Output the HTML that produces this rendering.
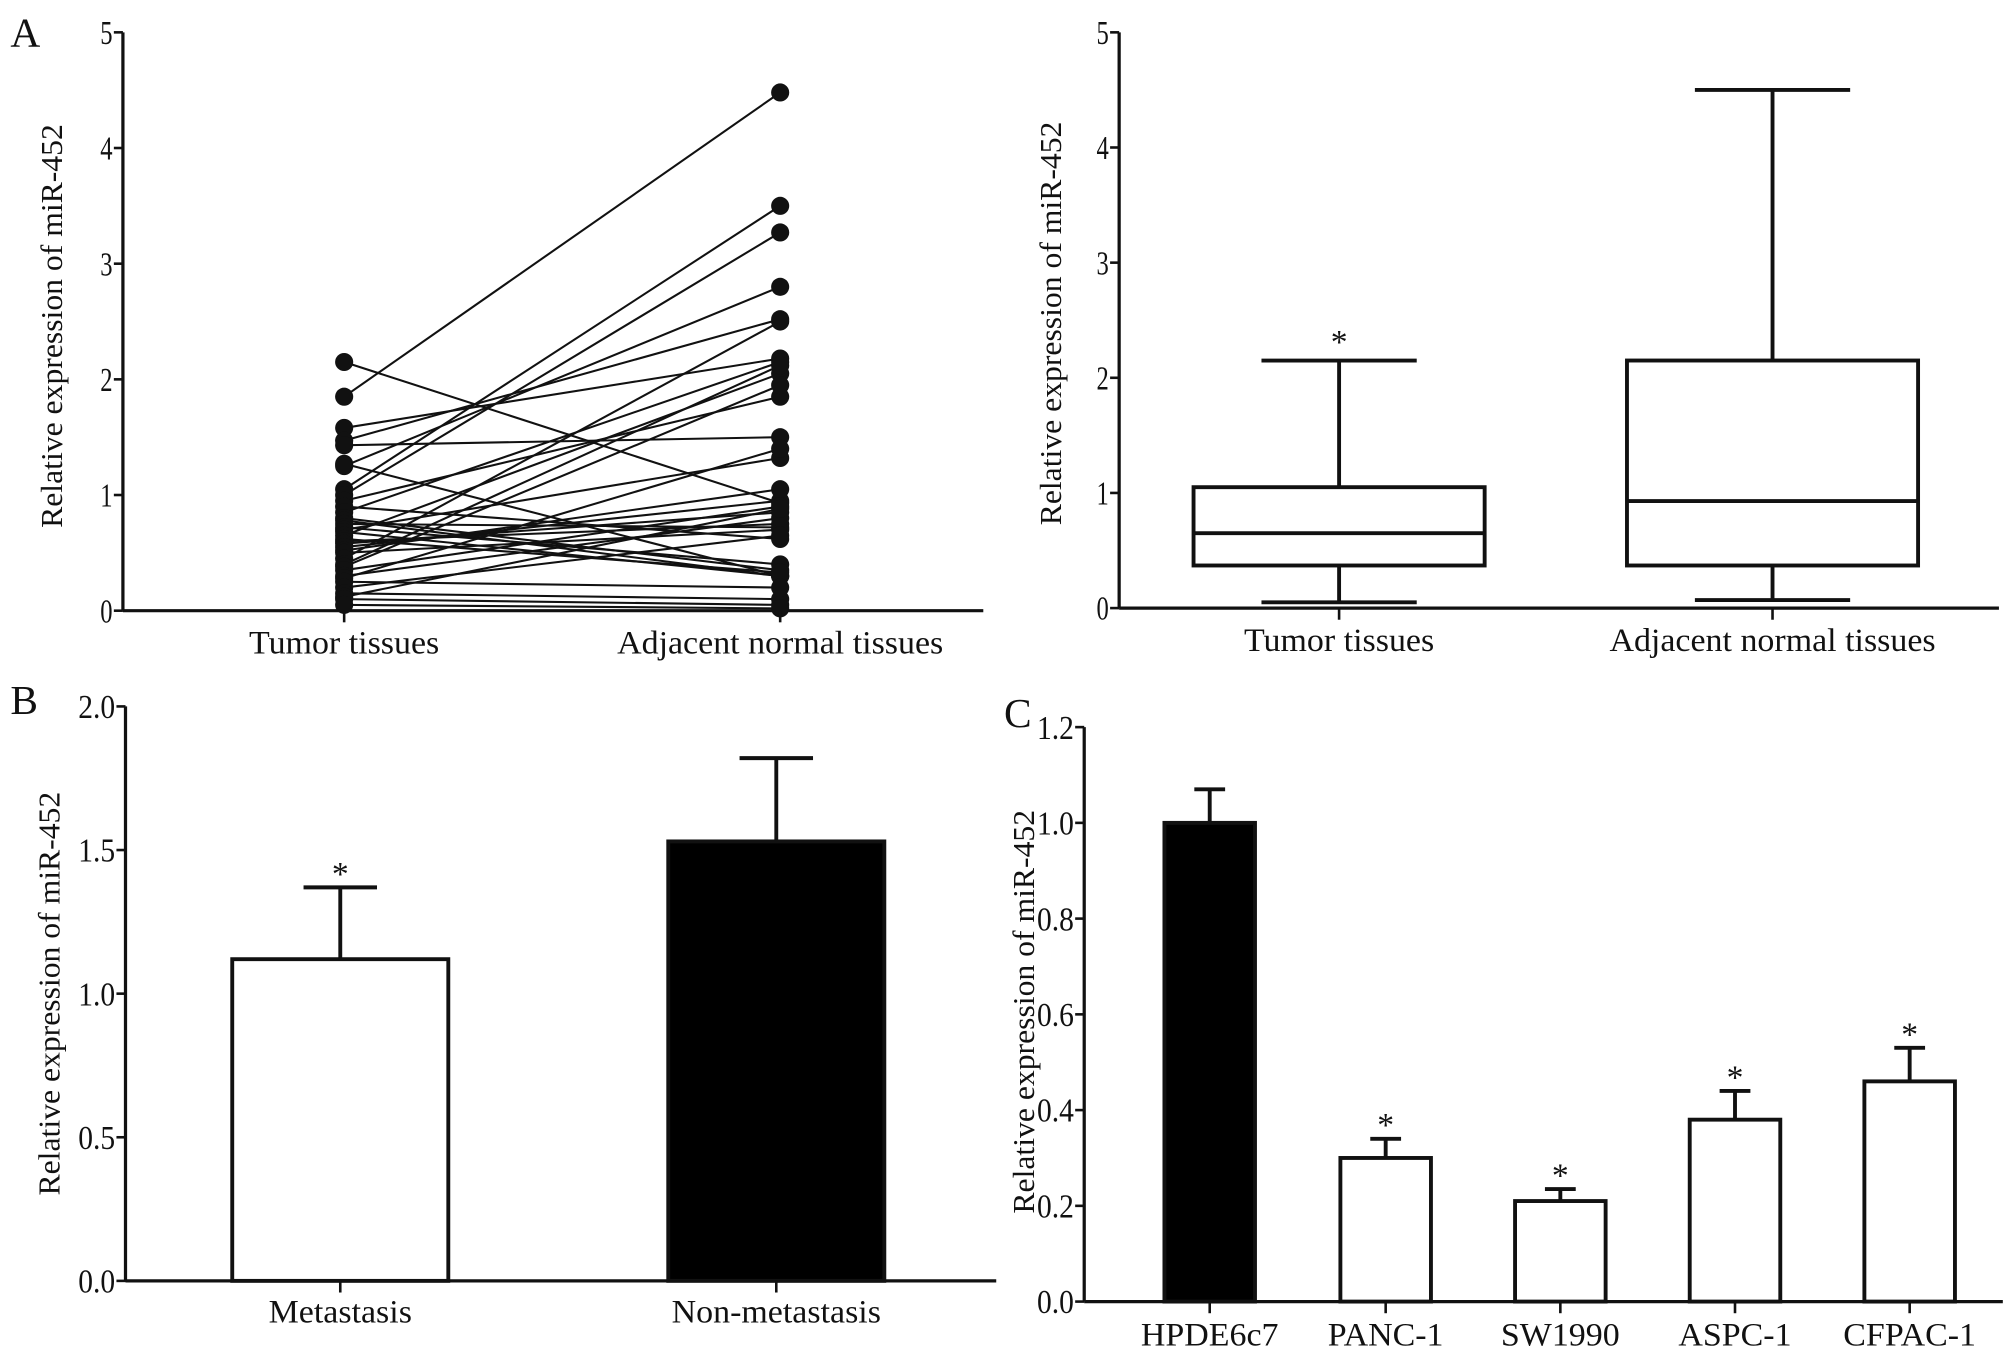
<!DOCTYPE html>
<html><head><meta charset="utf-8"><style>
html,body{margin:0;padding:0;background:#fff}
svg{display:block}
text{font-family:"Liberation Serif",serif;fill:#111}
</style></head><body>
<svg id="fig" width="2008" height="1362" viewBox="0 0 1552 1052.7" xmlns="http://www.w3.org/2000/svg">
<g id="pA1"></g>
<g id="pA2"></g>
<g id="pB"></g>
<g id="pC"></g>
</svg>
<script>
// Panel A paired data
const pairTumor = [1.85,2.15,1.58,1.47,1.43,1.27,1.25,1.05,1.0,0.95,0.9,0.85,0.8,0.78,0.75,0.72,0.7,0.68,0.65,0.62,0.6,0.58,0.55,0.52,0.5,0.45,0.4,0.38,0.35,0.3,0.28,0.25,0.2,0.15,0.12,0.1,0.05];
const pairAdjacent = [4.48,0.93,2.18,2.52,1.5,0.3,2.8,3.5,3.27,1.85,0.62,2.15,0.35,0.3,0.72,0.4,1.32,0.3,2.05,0.33,0.75,0.85,0.95,1.05,0.7,2.5,2.12,1.95,0.9,0.8,1.4,0.2,0.65,0.1,0.88,0.05,0.02];
const pairCategories = ["Tumor tissues","Adjacent normal tissues"];
const ticksA = [0,1,2,3,4,5];
// Panel A box stats: [min,q1,median,q3,max]
const boxCategories = ["Tumor tissues","Adjacent normal tissues"];
const boxStats = [[0.05,0.37,0.65,1.05,2.15],[0.07,0.37,0.93,2.15,4.5]];
// Panel B
const catB = ["Metastasis","Non-metastasis"];
const valB = [1.12,1.53];
const errB = [0.25,0.29];
const ticksB = ["0.0","0.5","1.0","1.5","2.0"];
// Panel C
const catC = ["HPDE6c7","PANC-1","SW1990","ASPC-1","CFPAC-1"];
const valC = [1.0,0.30,0.21,0.38,0.46];
const errC = [0.07,0.04,0.025,0.06,0.07];
const ticksC = ["0.0","0.2","0.4","0.6","0.8","1.0","1.2"];

const NS="http://www.w3.org/2000/svg";
function mk(parent,tag,attrs,txt){const e=document.createElementNS(NS,tag);for(const k in attrs)e.setAttribute(k,attrs[k]);if(txt!==undefined)e.textContent=txt;parent.appendChild(e);return e;}
function lin(d0,d1,r0,r1){return v=>r0+(v-d0)/(d1-d0)*(r1-r0);}
function stretch(t,f){const w=t.getComputedTextLength();t.setAttribute('textLength',w*f);t.setAttribute('lengthAdjust','spacingAndGlyphs');}

function axes(g,x0,x1,y0,ticks,yScale,ylabel,ylx,yly){
  let e=mk(g,'line',{x1:x0,y1:yScale(+ticks[ticks.length-1]),x2:x0,y2:y0,stroke:'#111','stroke-width':2.5});
  
  
  e=mk(g,'line',{x1:x0,y1:y0,x2:x1,y2:y0,stroke:'#111','stroke-width':2.5});
  
  
  ticks.forEach(t=>{const y=yScale(+t);
    let l=mk(g,'line',{x1:x0-7,y1:y,x2:x0,y2:y,stroke:'#111','stroke-width':2});
    
    
    let tx=mk(g,'text',{x:x0-8,y:y+9,'text-anchor':'end','font-size':26,textLength:String(t).length*9.5,lengthAdjust:'spacingAndGlyphs'},t);
    
    
  });
  let yl=mk(g,'text',{x:0,y:0,'text-anchor':'middle','font-size':24,transform:`translate(${ylx},${yly}) rotate(-90)`},ylabel);
  
  
  stretch(yl,1.02);
}
function xlabel(g,x,y0,txt,ly){
  let l=mk(g,'line',{x1:x,y1:y0,x2:x,y2:y0+9,stroke:'#111','stroke-width':2});
  
  
  let t=mk(g,'text',{x:x,y:ly,'text-anchor':'middle','font-size':25},txt);
  
  
  stretch(t,1.05);
}
function panelLetter(g,x,y,s){let t=mk(g,'text',{x:x,y:y,'font-size':32},s);
  
  }

// Panel A left
(function(){
  const g=document.getElementById('pA1');
  const y=lin(0,5,472,25), xs=[266,603];
  panelLetter(g,8,36,'A');
  axes(g,95,760,472,ticksA.map(String),y,'Relative expression of miR-452',48,252);
  pairTumor.forEach((t,i)=>{const a=pairAdjacent[i];
    let l=mk(g,'line',{x1:xs[0],y1:y(t),x2:xs[1],y2:y(a),stroke:'#111','stroke-width':1.6});
    
    
    let c1=mk(g,'circle',{cx:xs[0],cy:y(t),r:7,fill:'#111'});
    
    
    let c2=mk(g,'circle',{cx:xs[1],cy:y(a),r:7,fill:'#111'});
    
    
  });
  pairCategories.forEach((c,i)=>xlabel(g,xs[i],472,c,505));
})();

// Panel A right box plot
(function(){
  const g=document.getElementById('pA2');
  const y=lin(0,5,470,25), xs=[1035,1370], bw=225, cw=60;
  axes(g,865,1545,470,ticksA.map(String),y,'Relative expression of miR-452',820,250);
  boxStats.forEach((s,i)=>{const x=xs[i];
    const w=mk(g,'path',{d:`M${x},${y(s[0])}V${y(s[1])}M${x},${y(s[3])}V${y(s[4])}M${x-cw},${y(s[0])}H${x+cw}M${x-cw},${y(s[4])}H${x+cw}`,stroke:'#111','stroke-width':3,fill:'none'});
    
    
    const b=mk(g,'rect',{x:x-bw/2,y:y(s[3]),width:bw,height:y(s[1])-y(s[3]),fill:'#fff',stroke:'#111','stroke-width':3});
    
    
    const m=mk(g,'line',{x1:x-bw/2,y1:y(s[2]),x2:x+bw/2,y2:y(s[2]),stroke:'#111','stroke-width':3});
    
    
    xlabel(g,x,470,boxCategories[i],503);
  });
  const st=mk(g,'text',{x:xs[0],y:y(boxStats[0][4])-6,'text-anchor':'middle','font-size':26},'*');
  
  
})();

function bars(g,cats,vals,errs,xs,bw,y,y0,fills,star,labY){
  cats.forEach((c,i)=>{const x=xs[i],v=vals[i],e=v+errs[i];
    const eb=mk(g,'path',{d:`M${x},${y(v)}V${y(e)}M${x-bw*0.17},${y(e)}H${x+bw*0.17}`,stroke:'#111','stroke-width':3,fill:'none'});
    
    
    const r=mk(g,'rect',{x:x-bw/2,y:y(v),width:bw,height:y0-y(v),fill:fills[i],stroke:'#111','stroke-width':3});
    
    
    if(star[i]){const s=mk(g,'text',{x:x,y:y(e)-2,'text-anchor':'middle','font-size':26},'*');
      
      }
    xlabel(g,x,y0,c,labY);
  });
}
// Panel B
(function(){
  const g=document.getElementById('pB');
  const y=lin(0,2,990,546);
  panelLetter(g,8,552,'B');
  axes(g,97,770,990,ticksB,y,'Relative expression of miR-452',46,768);
  bars(g,catB,valB,errB,[263,600],167,y,990,['#fff','#000'],[true,false],1022);
})();
// Panel C
(function(){
  const g=document.getElementById('pC');
  const y=lin(0,1.2,1006,562);
  panelLetter(g,776,562,'C');
  axes(g,838,1548,1006,ticksC,y,'Relative expression of miR-452',799,782);
  bars(g,catC,valC,errC,[935,1071,1206,1341,1476],70,y,1006,['#000','#fff','#fff','#fff','#fff'],[false,true,true,true,true],1040);
})();
</script>
</body></html>
